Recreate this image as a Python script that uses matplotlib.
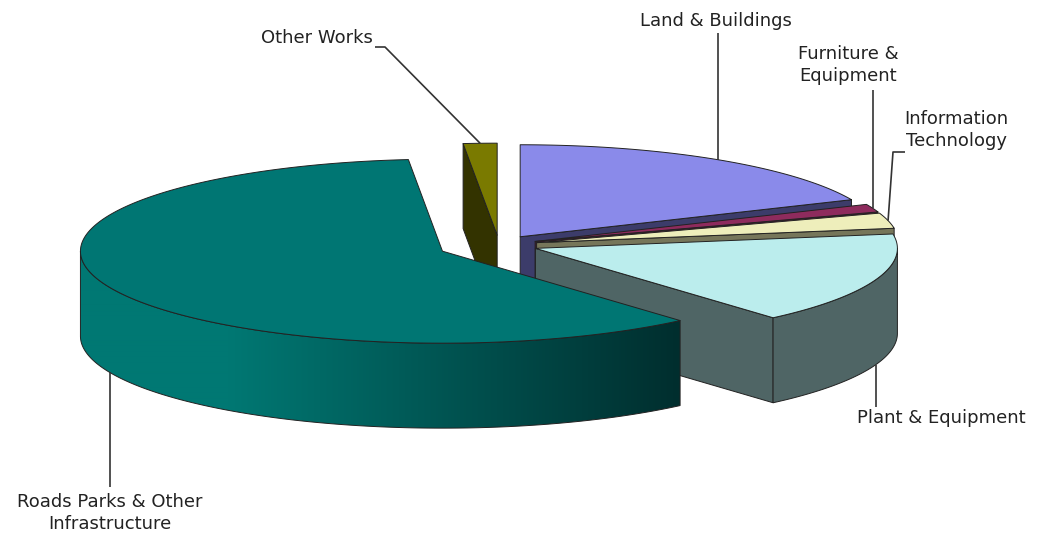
import numpy as np
import matplotlib
matplotlib.use("Agg")
import matplotlib.pyplot as plt
from matplotlib.patches import Polygon
from matplotlib.colors import to_rgb

# ---- data -------------------------------------------------------------
labels = ["Land & Buildings", "Furniture &\nEquipment", "Information\nTechnology",
          "Plant & Equipment", "Roads Parks & Other\nInfrastructure", "Other Works"]
shares = [18.4, 1.4, 2.7, 16.1, 59.9, 1.5]

# ---- style ------------------------------------------------------------
top_colors = ["#8a8aea", "#8e2b5d", "#eeeebb", "#bbeded", "#007673", "#7a7a00"]
side_colors = ["#3c3c6a", "#4a1630", "#76765a", "#4f6565",
               ("#007873", "#002e2e"), "#333300"]
explode = [0.107, 0.107, 0.107, 0.107, 0.17, 0.107]

W, H = 1048, 540
CX, CY = 499, 245          # pie centre on screen
RX, RY = 362, 92           # projected radii of the top ellipse
DEPTH = 85                 # wall height
EDGE = "#222222"
LW = 0.7

# label placement: text position, alignment, where the leader starts, leader path
label_layout = [
    dict(xy=(716, 21), ha="center", anchor="top", path=[(None, 33)]),
    dict(xy=(848, 65), ha="center", anchor="top", path=[(None, 90)]),
    dict(xy=(904, 130), ha="left", anchor="top", path=[(893, 152), (905, 152)]),
    dict(xy=(857, 418), ha="left", anchor="bottom", path=[(None, 407)]),
    dict(xy=(110, 513), ha="center", anchor="bottom", path=[(None, 487)]),
    dict(xy=(373, 38), ha="right", anchor="top", path=[(385, 47), (375, 47)]),
]

fig = plt.figure(figsize=(W / 100, H / 100), dpi=100)
ax = fig.add_axes([0, 0, 1, 1])
ax.axis("off")

z = [1.0]


def next_z():
    z[0] += 0.01
    return z[0]


def rim(cx, cy, t, dz=0.0):
    r = np.radians(np.atleast_1d(t))
    return np.column_stack([cx + RX * np.cos(r), cy - RY * np.sin(r) + dz])


def arc_samples(t1, t2):
    n = max(2, int(abs(t2 - t1) * 3) + 1)
    return np.linspace(t1, t2, n)


def front_runs(t1, t2):
    """Sub-ranges of [t1, t2] where the outer wall faces the viewer."""
    runs = []
    for k in range(-2, 3):
        lo, hi = max(t1, -180 + 360 * k), min(t2, 360 * k)
        if hi - lo > 1e-6:
            runs.append((lo, hi))
    return runs


total = float(sum(shares))
bounds = 90 - np.concatenate([[0], np.cumsum(shares)]) / total * 360.0

slices = []
for i in range(len(shares)):
    t1, t2 = bounds[i + 1], bounds[i]          # counter-clockwise order
    mid = 0.5 * (t1 + t2)
    m = np.radians(mid)
    sx = CX + explode[i] * RX * np.cos(m)
    sy = CY - explode[i] * RY * np.sin(m)
    slices.append(dict(i=i, t1=t1, t2=t2, mid=mid, cx=sx, cy=sy))

# paint from the back of the pie to the front
order = sorted(slices, key=lambda s: -np.sin(np.radians(s["mid"])))

for s in order:
    i, cx, cy, t1, t2 = s["i"], s["cx"], s["cy"], s["t1"], s["t2"]
    sc = side_colors[i]
    flat_side = sc if isinstance(sc, str) else sc[1]

    # radial walls that face the viewer
    for t, facing in ((t1, np.cos(np.radians(t1)) > 0.01),
                      (t2, np.cos(np.radians(t2)) < -0.01)):
        if facing:
            p = rim(cx, cy, t)[0]
            quad = [(cx, cy), tuple(p), (p[0], p[1] + DEPTH), (cx, cy + DEPTH)]
            ax.add_patch(Polygon(quad, closed=True, facecolor=flat_side,
                                 edgecolor=EDGE, lw=LW, joinstyle="round",
                                 zorder=next_z()))

    # curved outer wall
    for lo, hi in front_runs(t1, t2):
        ts = arc_samples(lo, hi)
        top = rim(cx, cy, ts)
        bot = rim(cx, cy, ts, DEPTH)
        outline = np.vstack([top, bot[::-1]])
        if isinstance(sc, str):
            ax.add_patch(Polygon(outline, closed=True, facecolor=sc,
                                 edgecolor=EDGE, lw=LW, zorder=next_z()))
        else:
            # horizontal shading: light on the left, dark toward the cut edge
            light, dark = np.array(to_rgb(sc[0])), np.array(to_rgb(sc[1]))
            x0, x1 = outline[:, 0].min(), outline[:, 0].max()
            y0, y1 = outline[:, 1].min(), outline[:, 1].max()
            xs = np.linspace(x0, x1, 600)
            c0, c1 = -0.59, np.cos(np.radians(t2))
            u = np.clip(((xs - cx) / RX - c0) / (c1 - c0), 0, 1)[:, None]
            grad = (light * (1 - u) + dark * u)[None, :, :]
            clip = Polygon(outline, closed=True, facecolor="none",
                           edgecolor=EDGE, lw=LW, transform=ax.transData)
            zz = next_z()
            im = ax.imshow(grad, extent=(x0, x1, y1, y0), aspect="auto",
                           interpolation="bilinear", zorder=zz)
            im.set_clip_path(clip)
            clip.set_zorder(zz + 0.001)
            ax.add_patch(clip)

    # top face
    ts = arc_samples(t1, t2)
    face = np.vstack([[(cx, cy)], rim(cx, cy, ts)])
    ax.add_patch(Polygon(face, closed=True, facecolor=top_colors[i],
                         edgecolor=EDGE, lw=LW, joinstyle="round",
                         zorder=next_z()))

# labels with leader lines
for s in slices:
    i = s["i"]
    lay = label_layout[i]
    dz = 0 if lay["anchor"] == "top" else DEPTH
    ax0, ay0 = rim(s["cx"], s["cy"], s["mid"], dz)[0]
    xs, ys = [ax0], [ay0]
    for px, py in lay["path"]:
        xs.append(ax0 if px is None else px)
        ys.append(py)
    ax.plot(xs, ys, color="#333333", lw=1.2, solid_capstyle="butt", zorder=10)
    ax.text(lay["xy"][0], lay["xy"][1], labels[i], ha=lay["ha"], va="center",
            fontsize=13, family="DejaVu Sans", color="#222222",
            linespacing=1.35, multialignment="center", zorder=11)

ax.set_xlim(0, W)
ax.set_ylim(H, 0)
fig.savefig("out.png", dpi=100, facecolor="white")
